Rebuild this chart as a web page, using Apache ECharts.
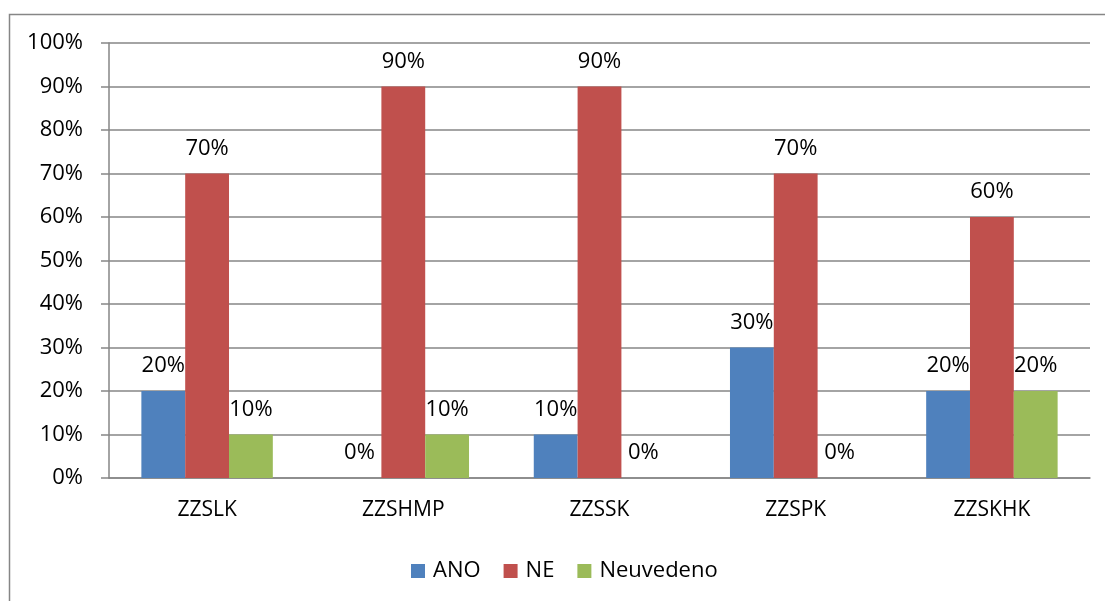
<!DOCTYPE html>
<html><head><meta charset="utf-8">
<script src="https://cdn.jsdelivr.net/npm/echarts@6/dist/echarts.min.js"></script>
<style>html,body{margin:0;padding:0;background:#fff}#c{width:1105px;height:601px}</style>
</head><body><div id="c"></div>
<script>
const categories = ['ZZSLK', 'ZZSHMP', 'ZZSSK', 'ZZSPK', 'ZZSKHK'];
const seriesNames = ['ANO', 'NE', 'Neuvedeno'];
const ano = [20, 0, 10, 30, 20];
const ne = [70, 90, 90, 70, 60];
const neuvedeno = [10, 10, 0, 0, 20];
const colors = ['#4F81BD', '#C0504D', '#9BBB59'];
const values = [ano, ne, neuvedeno];

const font = 'Open Sans';
const chart = echarts.init(document.getElementById('c'));
chart.setOption({
  animation: false,
  graphic: [{
    type: 'rect', left: 7, top: 12, shape: { width: 1200, height: 700 },
    style: { fill: 'none', stroke: '#868686', lineWidth: 1.5 }, silent: true
  }],
  grid: { left: 109, right: 15, top: 43, bottom: 123, containLabel: false },
  legend: {
    top: 555, left: 406, itemWidth: 14, itemHeight: 14, itemGap: 23,
    icon: 'rect',
    textStyle: { fontFamily: font, fontSize: 22, color: '#000', padding: [0, 0, 0, 3] },
    data: seriesNames
  },
  xAxis: {
    type: 'category', data: categories,
    axisLine: { lineStyle: { color: '#868686', width: 1.5 } },
    axisTick: { length: 7, lineStyle: { color: '#868686', width: 1.5 } },
    axisLabel: { fontFamily: font, fontSize: 21, color: '#000', margin: 22 }
  },
  yAxis: {
    type: 'value', min: 0, max: 100, interval: 10,
    axisLine: { show: true, lineStyle: { color: '#868686', width: 1.5 } },
    axisTick: { show: true, length: 8, lineStyle: { color: '#868686', width: 1.5 } },
    splitLine: { lineStyle: { color: '#868686', width: 1.5 } },
    axisLabel: { fontFamily: font, fontSize: 22, color: '#000', margin: 26, formatter: '{value}%' }
  },
  series: seriesNames.map((n, i) => ({
    name: n, type: 'bar', data: values[i],
    barGap: '0%', barCategoryGap: '33%',
    itemStyle: { color: colors[i] },
    label: { show: true, position: 'top', distance: 14, formatter: '{c}%',
      fontFamily: font, fontSize: 22, color: '#000' }
  }))
});
</script></body></html>
